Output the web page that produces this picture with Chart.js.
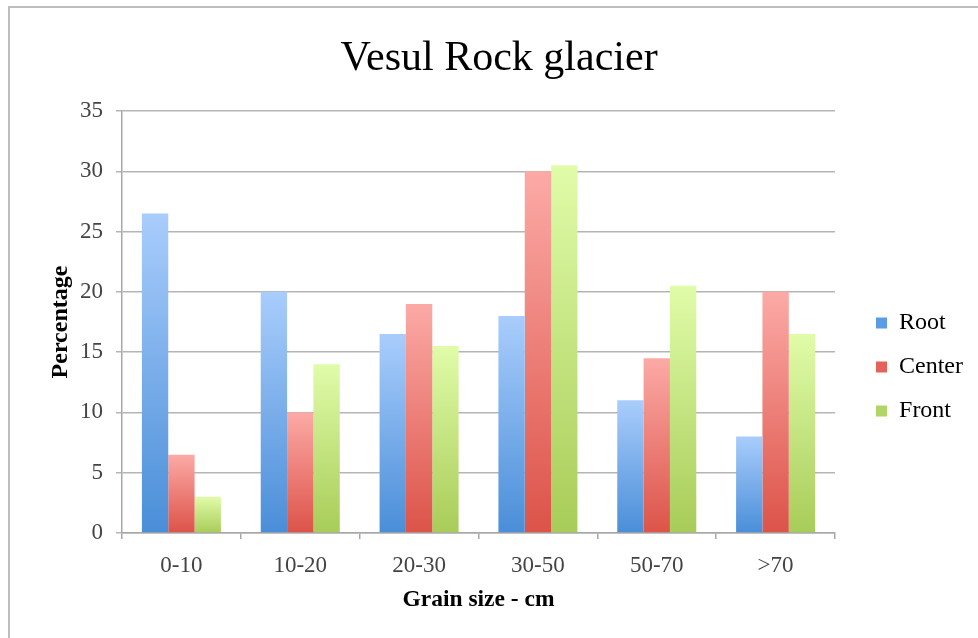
<!DOCTYPE html>
<html>
<head>
<meta charset="utf-8">
<script src="https://cdn.jsdelivr.net/npm/chart.js@4/dist/chart.umd.min.js"></script>
<style>
  html, body { margin: 0; padding: 0; background: #fff; overflow: hidden; }
  #wrap { position: relative; width: 978px; height: 638px; }
  #frame { position: absolute; left: 8px; top: 6px; width: 1000px; height: 700px; border: 2px solid #bdbdbd; }
  canvas { position: absolute; left: 0; top: 0; }
</style>
</head>
<body>
<div id="wrap">
  <div id="frame"></div>
  <canvas id="myChart" width="978" height="638"></canvas>
</div>
<script>
const categories = ['0-10', '10-20', '20-30', '30-50', '50-70', '>70'];
const rootValues = [26.5, 20, 16.5, 18, 11, 8];
const centerValues = [6.5, 10, 19, 30, 14.5, 20];
const frontValues = [3, 14, 15.5, 30.5, 20.5, 16.5];

const FONT = '"Liberation Serif", "Times New Roman", serif';

// vertical gradient per bar: light at top, darker at the base
function barGradient(top, bottom) {
    return function(context) {
        const chart = context.chart;
        if (!chart.chartArea || context.parsed === undefined) return bottom;
        const y = chart.scales.y;
        const yTop = y.getPixelForValue(context.parsed.y);
        const yBase = y.getPixelForValue(0);
        if (yBase - yTop < 1) return bottom;
        const g = chart.ctx.createLinearGradient(0, yTop, 0, yBase);
        g.addColorStop(0, top);
        g.addColorStop(1, bottom);
        return g;
    };
}

const legendColors = ['#5b9be3', '#e5625a', '#b1d567'];

// nudge legend and title a bit, like the original
const layoutShift = {
    id: 'layoutShift',
    afterLayout(chart) {
        const lg = chart.legend;
        if (lg) {
            lg.left += 21;
            lg.right += 21;
            lg.top += 48;
            lg.bottom += 48;
        }
        const tb = chart.titleBlock;
        if (tb) {
            tb.left += 23;
            tb.right += 23;
        }
    }
};

const ctx = document.getElementById('myChart').getContext('2d');
new Chart(ctx, {
    type: 'bar',
    data: {
        labels: categories,
        datasets: [
            { label: 'Root', data: rootValues, backgroundColor: barGradient('#a9cdfc', '#4a8ed8') },
            { label: 'Center', data: centerValues, backgroundColor: barGradient('#fcaaa6', '#dc5349') },
            { label: 'Front', data: frontValues, backgroundColor: barGradient('#e0fca9', '#a8cc58') }
        ]
    },
    options: {
        responsive: false,
        animation: false,
        layout: { padding: { left: 0, right: 26, top: 0, bottom: 0 } },
        datasets: { bar: { categoryPercentage: 0.665, barPercentage: 1 } },
        plugins: {
            title: {
                display: true,
                text: 'Vesul Rock glacier',
                color: '#000',
                font: { family: FONT, size: 42, weight: 'normal' },
                padding: { top: 34, bottom: 26.6 }
            },
            legend: {
                position: 'right',
                labels: {
                    color: '#222',
                    font: { family: FONT, size: 24 },
                    boxWidth: 11,
                    boxHeight: 11,
                    padding: 20,
                    generateLabels(chart) {
                        return chart.data.datasets.map((ds, i) => ({
                            text: ds.label,
                            fillStyle: legendColors[i],
                            strokeStyle: legendColors[i],
                            lineWidth: 0,
                            datasetIndex: i
                        }));
                    }
                }
            },
            tooltip: { enabled: false }
        },
        scales: {
            x: {
                afterFit(scale) { scale.height = 105; },
                grid: { drawOnChartArea: false, drawTicks: true, tickLength: 6, color: '#a8a8a8', lineWidth: 1.5 },
                border: { color: '#a8a8a8', width: 1.5 },
                ticks: { color: '#444', font: { family: FONT, size: 23 }, padding: 13 },
                title: {
                    display: true,
                    text: 'Grain size - cm',
                    color: '#000',
                    font: { family: FONT, size: 23.5, weight: 'bold' },
                    padding: { top: 0, bottom: 23.6 }
                }
            },
            y: {
                min: 0,
                max: 35,
                afterFit(scale) { scale.width = 122; },
                ticks: { stepSize: 5, color: '#444', font: { family: FONT, size: 23 }, padding: 13 },
                grid: { color: '#b5b5b5', lineWidth: 1.5, tickLength: 6 },
                border: { color: '#a8a8a8', width: 1.5 },
                title: {
                    display: true,
                    text: 'Percentage',
                    color: '#000',
                    font: { family: FONT, size: 24, weight: 'bold' },
                    padding: { top: 46.6, bottom: 0 }
                }
            }
        }
    },
    plugins: [layoutShift]
});
</script>
</body>
</html>
